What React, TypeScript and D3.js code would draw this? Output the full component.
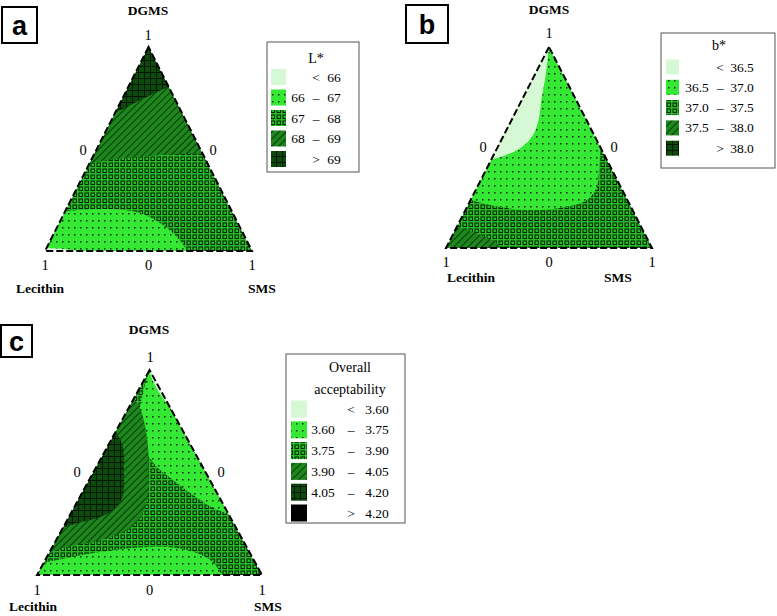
import React from 'react';
import * as d3 from 'd3';

// Ternary point: [DGMS fraction, SMS fraction]; Lecithin = 1 - DGMS - SMS
type T = [number, number];
type Region = { level: number; edge: T[]; close: T[] };

// level index: 0 lightest, 1 dots, 2 squares, 3 hatch, 4 grid, 5 black
const legendARows = ['< 66', '66 – 67', '67 – 68', '68 – 69', '> 69'];
const legendBRows = ['< 36.5', '36.5 – 37.0', '37.0 – 37.5', '37.5 – 38.0', '> 38.0'];
const legendCRows = ['< 3.60', '3.60 – 3.75', '3.75 – 3.90', '3.90 – 4.05', '4.05 – 4.20', '> 4.20'];
const legendATitle = ['L*'];
const legendBTitle = ['b*'];
const legendCTitle = ['Overall', 'acceptability'];

const tickTop = '1';
const tickSide = '0';
const tickBottom = ['1', '0', '1'];
const compNames = ['DGMS', 'Lecithin', 'SMS'];

const baseA = 2;
const regionsA: Region[] = [
  { level: 3, edge: [[0.43, 0], [0.451, 0.123], [0.466, 0.274], [0.475, 0.429], [0.478, 0.522]], close: [[1, 0]] },
  { level: 4, edge: [[0.68, 0], [0.706, 0.043], [0.74, 0.089], [0.77, 0.137], [0.794, 0.175], [0.8, 0.2]], close: [[1, 0]] },
  { level: 1, edge: [[0.196, 0], [0.206, 0.211], [0.186, 0.366], [0.137, 0.487], [0.088, 0.574], [0.039, 0.642], [0, 0.686]], close: [[0, 0]] },
  { level: 0, edge: [[0.015, 0], [0.012, 0.06], [0.006, 0.12], [0, 0.16]], close: [[0, 0]] },
];

const baseB = 1;
const regionsB: Region[] = [
  { level: 2, edge: [[0.239, 0], [0.204, 0.16], [0.189, 0.298], [0.199, 0.453], [0.239, 0.565], [0.303, 0.581], [0.403, 0.542], [0.5, 0.5]], close: [[0, 1], [0, 0]] },
  { level: 3, edge: [[0.104, 0], [0.085, 0.074], [0.06, 0.15], [0.03, 0.223], [0, 0.272]], close: [[0, 0]] },
  { level: 0, edge: [[0.44, 0], [0.462, 0.058], [0.498, 0.113], [0.557, 0.141], [0.637, 0.131], [0.736, 0.095], [0.851, 0.057], [0.95, 0.02], [1, 0]], close: [] },
];

const baseC = 2;
const regionsC: Region[] = [
  { level: 1, edge: [[1, 0], [0.888, 0.027], [0.805, 0.055], [0.673, 0.13], [0.595, 0.191], [0.527, 0.27], [0.463, 0.373], [0.39, 0.498], [0.327, 0.619], [0.3, 0.7]], close: [] },
  { level: 0, edge: [[1, 0], [0.96, 0.03], [0.9, 0.088], [0.84, 0.155], [0.83, 0.17]], close: [] },
  { level: 3, edge: [[0.86, 0], [0.8, 0.063], [0.644, 0.17], [0.512, 0.24], [0.38, 0.302], [0.283, 0.32], [0.22, 0.292], [0.171, 0.197], [0.137, 0.065], [0.11, 0]], close: [] },
  { level: 4, edge: [[0.7, 0], [0.63, 0.066], [0.512, 0.13], [0.38, 0.19], [0.317, 0.181], [0.278, 0.13], [0.254, 0.052], [0.23, 0]], close: [] },
  { level: 1, edge: [[0.059, 0], [0.083, 0.092], [0.112, 0.224], [0.132, 0.361], [0.137, 0.51], [0.122, 0.606], [0.083, 0.715], [0.039, 0.78], [0, 0.822]], close: [[0, 0]] },
];

const fills = ['#d6f8d4', 'url(#p-dots)', 'url(#p-sq)', 'url(#p-hatch)', 'url(#p-grid)', '#000'];

const panels = [
  {
    id: 'a', letter: 'a', box: [2, 7, 35, 36],
    tri: { lx: 45, rx: 252, ay: 47, by: 251 },
    dgms: [148, 10], top1: [148, 35], left0: [83, 150], right0: [213, 150], bottomY: 265,
    lec: [40, 288], sms: [262, 288],
    base: baseA, regions: regionsA,
    legend: { x: 267, y: 42, w: 92, h: 130, title: legendATitle, titleY: [58], tx: 316, rows: legendARows, y0: 77, dy: 20.5, sw: [271, 15, 16], opX: 316, valX: 334, loX: 298 },
  },
  {
    id: 'b', letter: 'b', box: [406, 5, 42, 38],
    tri: { lx: 446, rx: 652, ay: 47, by: 248 },
    dgms: [549, 9], top1: [549, 33], left0: [483, 147], right0: [614, 147], bottomY: 262,
    lec: [471, 277], sms: [618, 277],
    base: baseB, regions: regionsB,
    legend: { x: 661, y: 33, w: 114, h: 135, title: legendBTitle, titleY: [45], tx: 719, rows: legendBRows, y0: 67, dy: 20.3, sw: [666, 13, 15], opX: 720, valX: 742, loX: 697 },
  },
  {
    id: 'c', letter: 'c', box: [1, 325, 31, 32],
    tri: { lx: 37, rx: 262, ay: 370, by: 575 },
    dgms: [149, 329], top1: [150, 357], left0: [77, 472], right0: [221, 472], bottomY: 590,
    lec: [33, 606], sms: [268, 606],
    base: baseC, regions: regionsC,
    legend: { x: 286, y: 354, w: 119, h: 169, title: legendCTitle, titleY: [367, 389], tx: 350, rows: legendCRows, y0: 409, dy: 20.8, sw: [291, 16, 17], opX: 351, valX: 377, loX: 323 },
  },
];

function Panel({ p }: { p: any }) {
  const { lx, rx, ay, by } = p.tri;
  const xs = d3.scaleLinear().domain([0, 1]).range([lx, rx]);
  const ys = d3.scaleLinear().domain([0, 1]).range([by, ay]);
  const proj = (t: T): [number, number] => [xs(t[1] + t[0] / 2), ys(t[0])];
  const corners: T[] = [[1, 0], [0, 0], [0, 1]];
  const triPath = (d3.line()(corners.map(proj)) as string) + 'Z';
  const curve = d3.line().curve(d3.curveCatmullRom.alpha(0.5));
  const regionPath = (r: Region) => {
    let s = curve(r.edge.map(proj)) as string;
    for (const c of r.close) {
      const [x, y] = proj(c);
      s += `L${x},${y}`;
    }
    return s + 'Z';
  };
  const L = p.legend;
  const clipId = `clip-${p.id}`;
  const num = { fontSize: 14.5, fill: '#000', textAnchor: 'middle' as const, dominantBaseline: 'central' as const };
  const bold = { fontSize: 13.5, fill: '#000', fontWeight: 700, textAnchor: 'middle' as const, dominantBaseline: 'central' as const };
  const lt = { fontSize: 13.5, fill: '#000', textAnchor: 'middle' as const, dominantBaseline: 'central' as const };
  return (
    <g>
      <clipPath id={clipId}><path d={triPath} /></clipPath>
      <g clipPath={`url(#${clipId})`}>
        <path d={triPath} fill={fills[p.base]} />
        {p.regions.map((r: Region, i: number) => (
          <path key={i} d={regionPath(r)} fill={fills[r.level]} />
        ))}
      </g>
      <path d={triPath} fill="none" stroke="#000" strokeWidth={2} strokeDasharray="7 3" />

      <text x={p.dgms[0]} y={p.dgms[1]} {...bold}>{compNames[0]}</text>
      <text x={p.lec[0]} y={p.lec[1]} {...bold}>{compNames[1]}</text>
      <text x={p.sms[0]} y={p.sms[1]} {...bold}>{compNames[2]}</text>
      <text x={p.top1[0]} y={p.top1[1]} {...num}>{tickTop}</text>
      <text x={p.left0[0]} y={p.left0[1]} {...num}>{tickSide}</text>
      <text x={p.right0[0]} y={p.right0[1]} {...num}>{tickSide}</text>
      <text x={xs(0)} y={p.bottomY} {...num}>{tickBottom[0]}</text>
      <text x={xs(0.5)} y={p.bottomY} {...num}>{tickBottom[1]}</text>
      <text x={xs(1)} y={p.bottomY} {...num}>{tickBottom[2]}</text>

      <rect x={p.box[0]} y={p.box[1]} width={p.box[2]} height={p.box[3]} fill="#fff" stroke="#000" strokeWidth={2} />
      <text x={p.box[0] + p.box[2] / 2} y={p.box[1] + p.box[3] / 2 + 1} fontFamily="'Liberation Sans', Arial, sans-serif" fontWeight={700} fontSize={27} fill="#000" textAnchor="middle" dominantBaseline="central">{p.letter}</text>

      <rect x={L.x} y={L.y} width={L.w} height={L.h} fill="#fff" stroke="#555" strokeWidth={1} />
      {L.title.map((t: string, i: number) => (
        <text key={i} x={L.tx} y={L.titleY[i]} {...lt} fontSize={14}>{t}</text>
      ))}
      {L.rows.map((r: string, i: number) => {
        const y = L.y0 + i * L.dy;
        const parts = r.split(' ');
        return (
          <g key={i}>
            <rect x={L.sw[0]} y={y - L.sw[2] / 2} width={L.sw[1]} height={L.sw[2]} fill={fills[i]} />
            {parts.length === 2 ? (
              <>
                <text x={L.opX} y={y} {...lt}>{parts[0]}</text>
                <text x={L.valX} y={y} {...lt}>{parts[1]}</text>
              </>
            ) : (
              <>
                <text x={L.loX} y={y} {...lt}>{parts[0]}</text>
                <text x={L.opX} y={y} {...lt}>{parts[1]}</text>
                <text x={L.valX} y={y} {...lt}>{parts[2]}</text>
              </>
            )}
          </g>
        );
      })}
    </g>
  );
}

export default function App() {
  return (
    <svg width={777} height={616} style={{ position: 'absolute', left: 0, top: 0, background: '#fff' }}
      fontFamily="'Liberation Serif', 'Times New Roman', serif">
      <defs>
        <pattern id="p-dots" patternUnits="userSpaceOnUse" width={6} height={7}>
          <rect width={6} height={7} fill="#34e834" />
          <rect x={2} y={3} width={1.5} height={1.5} fill="#0a2a0a" />
        </pattern>
        <pattern id="p-sq" patternUnits="userSpaceOnUse" width={6} height={6}>
          <rect width={6} height={6} fill="#26c226" />
          <rect x={1} y={1} width={3.5} height={3.5} fill="none" stroke="#082808" strokeWidth={1.1} />
        </pattern>
        <pattern id="p-hatch" patternUnits="userSpaceOnUse" width={5} height={5} patternTransform="rotate(45)">
          <rect width={5} height={5} fill="#1d861d" />
          <line x1={0.5} y1={0} x2={0.5} y2={5} stroke="#0b3a0b" strokeWidth={1} />
        </pattern>
        <pattern id="p-grid" patternUnits="userSpaceOnUse" width={6} height={6}>
          <rect width={6} height={6} fill="#0e4a0e" />
          <line x1={0.5} y1={0} x2={0.5} y2={6} stroke="#021802" strokeWidth={1} />
          <line x1={0} y1={0.5} x2={6} y2={0.5} stroke="#021802" strokeWidth={1} />
        </pattern>
      </defs>
      {panels.map(p => <Panel key={p.id} p={p} />)}
    </svg>
  );
}
